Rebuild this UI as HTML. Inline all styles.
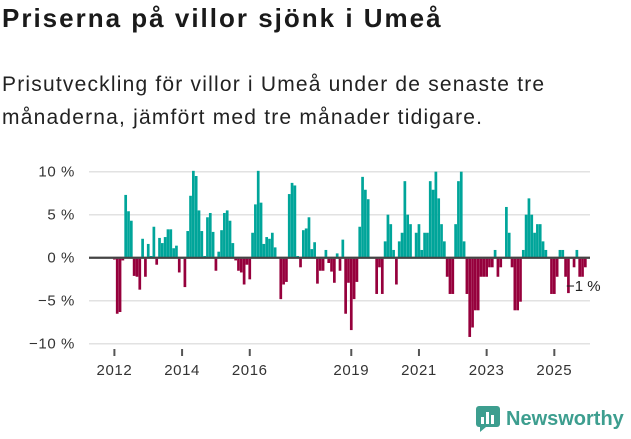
<!DOCTYPE html>
<html><head><meta charset="utf-8">
<style>
body{margin:0;width:631px;height:439px;background:#fff;font-family:"Liberation Sans","DejaVu Sans",sans-serif;color:#222;overflow:hidden;position:relative}
#title{position:absolute;left:2px;top:3px;font-size:26px;letter-spacing:2px;font-weight:bold;margin:0;color:#1a1a1a}
#sub{position:absolute;left:2px;top:68px;font-size:21px;letter-spacing:1.2px;line-height:33px;color:#222;width:575px}
#logo{position:absolute;left:476px;top:406px;display:flex;align-items:center}
#logo span{font-size:20px;font-weight:bold;color:#3d9e8f;margin-left:6px}
</style></head><body>
<h1 id="title">Priserna på villor sjönk i Umeå</h1>
<div id="sub">Prisutveckling för villor i Umeå under de senaste tre månaderna, jämfört med tre månader tidigare.</div>
<svg id="chart" width="631" height="439" style="position:absolute;left:0;top:0"></svg>
<div id="logo">
<svg width="24" height="26" viewBox="0 0 24 26"><rect x="0" y="0" width="24" height="21" rx="3" fill="#3d9e8f"/><polygon points="4,21 10,21 4,26" fill="#3d9e8f"/><rect x="5" y="11" width="3" height="7" fill="#fff"/><rect x="10" y="6" width="3" height="12" fill="#fff"/><rect x="15" y="9" width="3" height="9" fill="#fff"/></svg>
<span>Newsworthy</span></div>
<script>
const values=[-0.1,-6.4,-6.2,-0.2,7.3,5.4,4.3,-2.0,-2.1,-3.6,2.2,-2.1,1.6,0.2,3.6,-0.7,2.3,1.7,2.4,3.3,3.3,1.1,1.4,-1.6,0,-3.3,3.1,7.2,10.1,9.5,5.5,3.1,0.2,4.7,5.2,3.0,
-1.4,0.7,3.2,5.2,5.5,4.3,1.7,-0.2,-1.4,-1.6,-3.0,-0.7,-2.4,2.9,6.2,10.1,6.4,1.6,2.4,2.2,2.9,1.2,0,-4.7,-3.0,-2.7,7.4,8.7,8.4,0.2,-1.0,3.2,3.4,4.7,1.0,1.8,-2.9,-1.4,-1.4,0.9,-0.5,-1.5,-2.8,0.5,-1.4,
2.1,-6.4,-2.8,-8.3,-4.7,-2.7,3.6,9.4,7.9,6.8,0,0,-4.1,-1.0,-4.1,1.9,5.0,3.9,0.9,-3.0,1.9,2.9,8.9,5.0,3.9,0,2.9,3.9,0.9,2.9,2.9,8.9,7.9,10.0,6.9,3.9,1.9,-2.1,-4.1,-4.1,3.9,8.9,10.0,1.9,
-4.1,-9.1,-8.0,-6.0,-6.0,-2.1,-2.1,-2.1,-1.0,-1.0,0.9,-2.1,-1.0,0,5.9,2.9,-1.0,-6.0,-6.0,-5.0,0.9,5.0,6.9,5.0,2.9,3.9,3.9,1.9,0.9,0,-4.1,-4.1,-2.1,0.9,0.9,-2.1,-4.0,0,-1.0,0.9,-2.1,-2.1,-1.0];
const yTicks=[10,5,0,-5,-10];
const yTickLabels=["10 %","5 %","0 %","−5 %","−10 %"];
const xTickIdx=[0,24,48,84,108,132,156];
const xTickLabels=["2012","2014","2016","2019","2021","2023","2025"];
const lastLabel="−1 %";
const NS="http://www.w3.org/2000/svg";
const svg=document.getElementById('chart');
const x=i=>114.4+i*2.82;
const y=v=>257.7-v*8.6;
function mk(t,a){const e=document.createElementNS(NS,t);for(const k in a)e.setAttribute(k,a[k]);svg.appendChild(e);return e;}
yTicks.forEach((v,i)=>{
 const g=mk('line',{x1:89,x2:590,y1:y(v),y2:y(v),stroke:v===0?'#444':'#e2e2e2','stroke-width':v===0?2:1.5});
 
 
 const t=mk('text',{x:75,y:y(v)+5,'text-anchor':'end','font-size':15,'letter-spacing':0.6,fill:'#333','font-family':'Liberation Sans, sans-serif'});
 t.textContent=yTickLabels[i];
 
 
});
values.forEach((v,i)=>{
 if(v===0)return;
 const r=mk('rect',{x:x(i)-1.35,width:2.7,y:v>0?y(v):y(0)+1,height:Math.abs(y(v)-y(0)),fill:v>0?'#00a59a':'#96003c'});
 
 
});
const z=mk('line',{x1:89,x2:590,y1:y(0),y2:y(0),stroke:'#444','stroke-width':2});


xTickIdx.forEach((idx,i)=>{
 const l=mk('line',{x1:x(idx),x2:x(idx),y1:349,y2:356,stroke:'#555','stroke-width':2});
 
 
 const t=mk('text',{x:x(idx),y:375,'text-anchor':'middle','font-size':15,'letter-spacing':0.6,fill:'#333','font-family':'Liberation Sans, sans-serif'});
 t.textContent=xTickLabels[i];
 
 
});
const ll=mk('text',{x:566,y:291,'font-size':15,fill:'#222','font-family':'Liberation Sans, sans-serif'});
ll.textContent=lastLabel;


</script>
</body></html>
